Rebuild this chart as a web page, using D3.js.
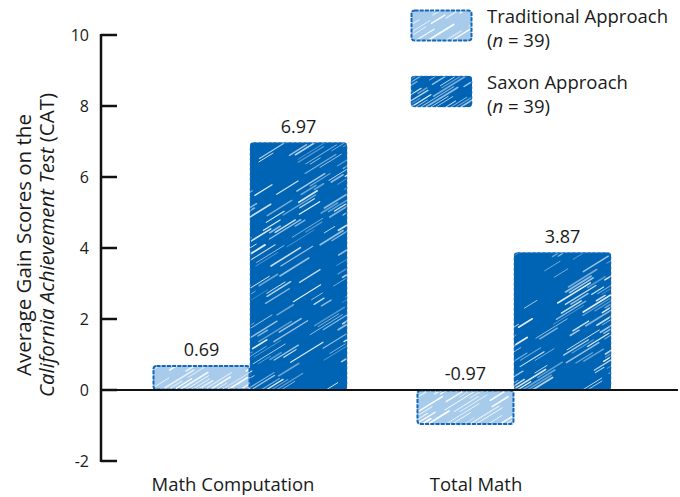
<!DOCTYPE html>
<html><head><meta charset="utf-8">
<script src="https://cdn.jsdelivr.net/npm/d3@7"></script>
<style>
body{margin:0;background:#fff;}
text{font-family:"Open Sans","Noto Sans",sans-serif;fill:#1a1a1a;}
</style></head>
<body><svg id="c" width="680" height="497"></svg>
<script>
const categories = ["Math Computation", "Total Math"];
const seriesNames = ["Traditional Approach", "Saxon Approach"];
const seriesN = [39, 39];
const traditional = [0.69, -0.97];
const saxon = [6.97, 3.87];
const yTicks = [-2, 0, 2, 4, 6, 8, 10];
const colors = ["#a8cbeb", "#0064b4"];
const strokeCol = "#1466b8";

const svg = d3.select("#c");
const y = d3.scaleLinear().domain([-2, 10]).range([461, 35]);
const x0 = d3.scaleBand().domain(categories).range([101, 663]).paddingInner(0.265).paddingOuter(0.197);
const x1 = d3.scaleBand().domain(seriesNames).range([0, x0.bandwidth()]).padding(0);

// deterministic pseudo-random for sketch texture
let seed = 11;
function rnd(){ seed = (seed * 16807) % 2147483647; return (seed - 1) / 2147483646; }

const defs = svg.append("defs");
let clipId = 0;
function sketchRect(g, x, yy, w, h, fill, light){
  const id = "clip" + (clipId++);
  defs.append("clipPath").attr("id", id).append("rect").attr("x", x).attr("y", yy).attr("width", w).attr("height", h).attr("rx", 3);
  g.append("rect").attr("x", x).attr("y", yy).attr("width", w).attr("height", h).attr("rx", 3).attr("fill", fill);
  const hg = g.append("g").attr("clip-path", `url(#${id})`);
  const slope = 0.62, step = light ? 6 : 5;
  const n = Math.hypot(1, slope), ux = 1 / n, uy = -slope / n;
  const phase = rnd() * 6;
  for (let k = -h / slope; k < w; k += step) {
    let t = 0;
    const total = Math.hypot(h / slope, h) + 20;
    while (t < total) {
      const len = 10 + rnd() * 30;
      const gap = 6 + rnd() * 30;
      const sx = x + k + t * ux, sy = yy + h + t * uy;
      // clustered streaks: density varies with position
      const dens = light ? 0.7 : 0.5 + 0.45 * Math.sin((sx + sy * 0.4) / 23 + phase) * Math.cos((sy - sx * 0.3) / 31 + phase);
      if (rnd() < dens) {
        hg.append("line").attr("x1", sx).attr("y1", sy).attr("x2", sx + len * ux).attr("y2", sy + len * uy)
          .attr("stroke", "#fff").attr("stroke-width", 0.7 + rnd() * 1.1)
          .attr("stroke-linecap", "round")
          .attr("opacity", (light ? 0.45 : 0.3) + rnd() * 0.6);
      }
      t += len + gap;
    }
  }
  g.append("rect").attr("x", x + 0.5).attr("y", yy + 0.5).attr("width", w - 1).attr("height", h - 1).attr("rx", 3)
    .attr("fill", "none").attr("stroke", strokeCol).attr("stroke-width", light ? 2 : 1.6)
    .attr("stroke-dasharray", light ? "4,1.2" : "3,2").attr("opacity", light ? 1 : 0.8);
}

// bars
const values = [traditional, saxon];
const barsG = svg.append("g");
categories.forEach((c, i) => {
  seriesNames.forEach((s, j) => {
    const v = values[j][i];
    const bx = x0(c) + x1(s), bw = x1.bandwidth();
    const top = y(Math.max(0, v)), bot = y(Math.min(0, v));
    sketchRect(barsG, bx, top, bw, bot - top, colors[j], j === 0);
    svg.append("text").attr("x", bx + bw / 2).attr("y", (v >= 0 ? top : y(0)) - 10)
      .attr("text-anchor", "middle").attr("font-size", 18).text(v.toFixed(2));
  });
});

// zero line
svg.append("line").attr("x1", 101).attr("x2", 678).attr("y1", y(0)).attr("y2", y(0)).attr("stroke", "#111").attr("stroke-width", 2);

// y axis
const yAxis = svg.append("g");
yAxis.append("line").attr("x1", 101).attr("x2", 101).attr("y1", y(10) - 1).attr("y2", y(-2) + 1).attr("stroke", "#111").attr("stroke-width", 2.5);
yTicks.forEach(t => {
  yAxis.append("line").attr("x1", 101).attr("x2", 117).attr("y1", y(t)).attr("y2", y(t)).attr("stroke", "#111").attr("stroke-width", 2.5);
  yAxis.append("text").attr("x", 89).attr("y", y(t)).attr("dy", "0.35em").attr("text-anchor", "end").attr("font-size", 16).text(t);
});

// category labels
const catX = [233, 476];
categories.forEach((c, i) => {
  svg.append("text").attr("x", catX[i]).attr("y", 491).attr("text-anchor", "middle").attr("font-size", 18.5).text(c);
});

// y title
const yt = svg.append("text").attr("transform", "translate(0,245) rotate(-90)").attr("text-anchor", "middle").attr("font-size", 20.5);
yt.append("tspan").attr("x", 0).attr("y", 31).text("Average Gain Scores on the");
const l2 = yt.append("tspan").attr("x", 0).attr("y", 54);
l2.append("tspan").attr("font-style", "italic").text("California Achievement Test");
l2.append("tspan").text(" (CAT)");

// legend
const legY = [10, 76];
seriesNames.forEach((s, j) => {
  const lg = svg.append("g");
  sketchRect(lg, 411, legY[j], 61, 31, colors[j], j === 0);
  const t = svg.append("text").attr("x", 487).attr("font-size", 18.5);
  t.append("tspan").attr("x", 487).attr("y", legY[j] + 13).text(s);
  const t2 = t.append("tspan").attr("x", 487).attr("y", legY[j] + 37);
  t2.append("tspan").text("(");
  t2.append("tspan").attr("font-style", "italic").text("n");
  t2.append("tspan").text(" = " + seriesN[j] + ")");
});
</script></body></html>
